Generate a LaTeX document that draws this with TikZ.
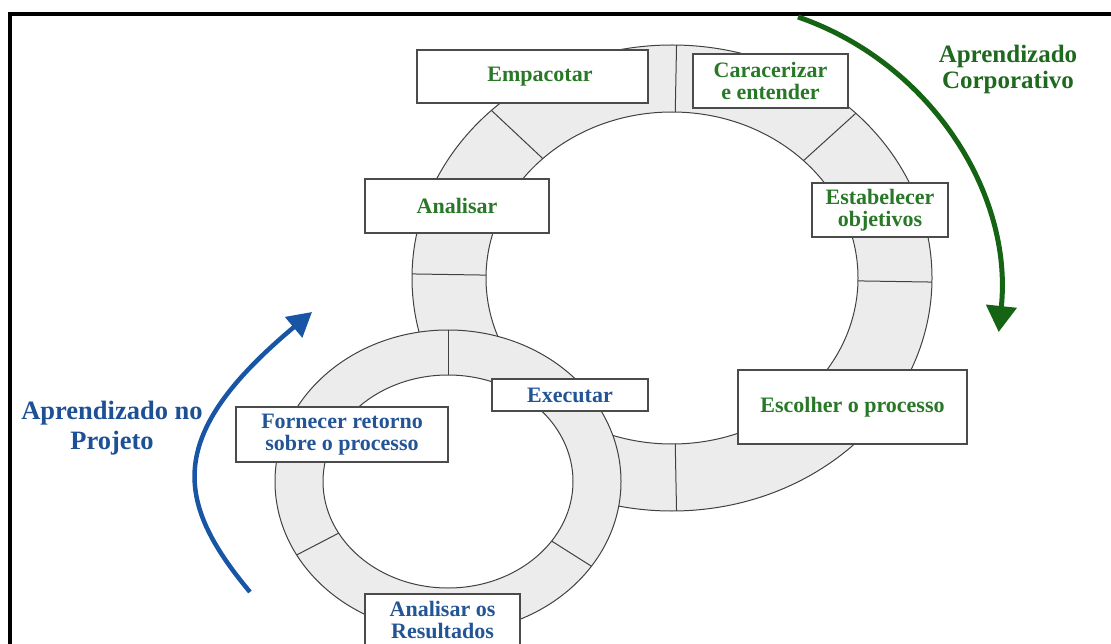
\documentclass[tikz,border=0pt]{standalone}
\usepackage{fontspec}
\setmainfont{Liberation Serif}
\usetikzlibrary{arrows.meta}

\definecolor{ringfill}{RGB}{236,236,236}
\definecolor{ringline}{RGB}{65,65,65}
\definecolor{boxline}{RGB}{75,75,75}
\definecolor{stagegreen}{RGB}{40,120,40}
\definecolor{stageblue}{RGB}{35,85,150}
\definecolor{corpgreen}{RGB}{30,105,30}
\definecolor{projblue}{RGB}{30,80,150}
\definecolor{arrowgreen}{RGB}{20,100,20}
\definecolor{arrowblue}{RGB}{25,85,165}

\begin{document}
\begin{tikzpicture}[x=1pt,y=-1pt,
  ringedge/.style={draw=ringline, line width=1pt},
  stage/.style={draw=boxline, line width=1.4pt, fill=white, inner sep=0pt,
    font=\bfseries\fontsize{22}{22.5}\selectfont, align=center},
  corpstage/.style={stage, text=stagegreen},
  projstage/.style={stage, text=stageblue},
  caption/.style={font=\bfseries\fontsize{26}{29}\selectfont, align=center},
  corparrow/.style={draw=arrowgreen, line width=5pt,
    -{Triangle[length=26pt,width=30pt]}},
  projarrow/.style={draw=arrowblue, line width=4.5pt,
    -{Triangle[length=24pt,width=26pt]}}]

\useasboundingbox (0,0) rectangle (1111,644);
\clip (0,0) rectangle (1111,644);

% frame (top and left edges)
\draw[line width=4pt] (9.5,644) -- (9.5,14) -- (1111,14);

% ---- corporate cycle (large ring) ----
\coordinate (bigC) at (672,278);
\filldraw[fill=ringfill, ringedge] (bigC) ellipse [x radius=260, y radius=233];
\filldraw[fill=white, ringedge] (bigC) ellipse [x radius=186, y radius=166];
\foreach \a in {-89,-45,1,89,181,-134}
  \draw[ringedge] (bigC) +(\a:186 and 166) -- +(\a:260 and 233);

% ---- project cycle (small ring) ----
\coordinate (smallC) at (448,481.5);
\filldraw[fill=ringfill, ringedge] (smallC) ellipse [x radius=173, y radius=151.5];
\filldraw[fill=white, ringedge] (smallC) ellipse [x radius=125, y radius=106.5];
\foreach \a in {-90,151,34}
  \draw[ringedge] (smallC) +(\a:125 and 106.5) -- +(\a:173 and 151.5);

% ---- stages of the corporate cycle ----
\node[corpstage, minimum width=231pt, minimum height=53pt] (empacotar) at (532.5,76.5)
  {\hspace*{15pt}Empacotar};
\node[corpstage, minimum width=155pt, minimum height=54pt] (caracterizar) at (770.5,81)
  {Caracerizar\\e entender};
\node[corpstage, minimum width=184pt, minimum height=54pt] (analisar) at (457,206)
  {Analisar};
\node[corpstage, minimum width=136pt, minimum height=54pt] (objetivos) at (880,210)
  {Estabelecer\\objetivos};
\node[corpstage, minimum width=229pt, minimum height=74pt] (escolher) at (852.5,407)
  {Escolher o processo};

% ---- stages of the project cycle ----
\node[projstage, minimum width=156pt, minimum height=32pt] (executar) at (570,395)
  {Executar};
\node[projstage, minimum width=212pt, minimum height=55pt] (fornecer) at (342,434.5)
  {Fornecer retorno\\sobre o processo};
\node[projstage, minimum width=155pt, minimum height=52pt] (resultados) at (442.5,620)
  {Analisar os\\Resultados};

% ---- learning loops ----
\node[caption, text=corpgreen, font=\bfseries\fontsize{25}{26}\selectfont] (corporativo) at (1008,69)
  {Aprendizado\\Corporativo};
\node[caption, text=projblue, font=\bfseries\fontsize{26.5}{30}\selectfont] (projeto) at (112,428)
  {Aprendizado no\\Projeto};

\coordinate (gStart) at (798,17);
\draw[corparrow] (gStart) arc [start angle=-71, end angle=6, radius=300];

\coordinate (bStart) at (250,592);
\coordinate (bEnd) at (312,312);
\draw[projarrow] (bStart) .. controls (173,500) and (166,434) .. (bEnd);

\end{tikzpicture}
\end{document}
